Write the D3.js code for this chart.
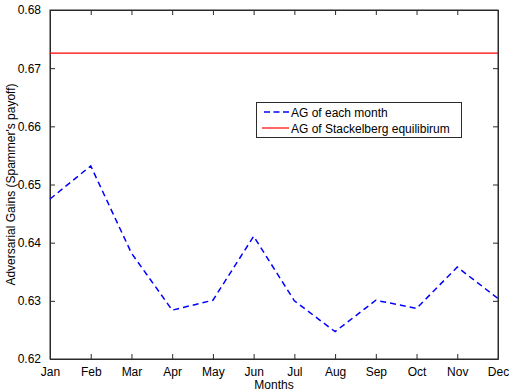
<!DOCTYPE html>
<html><head><meta charset="utf-8">
<script src="https://cdn.jsdelivr.net/npm/d3@7"></script>
<style>body{margin:0;background:#fff}svg{display:block;font-family:"Liberation Sans",Arial,sans-serif}</style>
</head><body><svg id="c" width="509" height="392"></svg>
<script>
const months = ["Jan","Feb","Mar","Apr","May","Jun","Jul","Aug","Sep","Oct","Nov","Dec"];
const monthlyAG = [0.6475,0.6532,0.6382,0.6284,0.6301,0.6411,0.6300,0.6247,0.6301,0.6287,0.6358,0.6304];
const stackelbergAG = 0.6726;
const yTicks = [0.62,0.63,0.64,0.65,0.66,0.67,0.68];
const legendLabels = ["AG of each month","AG of Stackelberg equilibirum"];

const FS = "12px";
const svg = d3.select("#c");
const L=50,R=498,T=10,B=359;
const x = d3.scalePoint().domain(months).range([L,R]);
const y = d3.scaleLinear().domain([0.62,0.68]).range([B,T]);
const axCol="#2a2a2a";

svg.append("rect").attr("x",L).attr("y",T).attr("width",R-L).attr("height",B-T)
  .attr("fill","#fff").attr("stroke",axCol).attr("stroke-width",1);

// axes
const gx = svg.append("g").attr("transform",`translate(0,${B})`)
  .call(d3.axisBottom(x).tickSizeInner(-5).tickSizeOuter(0).tickPadding(8));
const gxt = svg.append("g").attr("transform",`translate(0,${T})`)
  .call(d3.axisTop(x).tickSizeInner(-5).tickSizeOuter(0).tickFormat(""));
const gy = svg.append("g").attr("transform",`translate(${L},0)`)
  .call(d3.axisLeft(y).tickValues(yTicks).tickFormat(d3.format(".2f")).tickSizeInner(-5).tickSizeOuter(0).tickPadding(9));
const gyr = svg.append("g").attr("transform",`translate(${R},0)`)
  .call(d3.axisRight(y).tickValues(yTicks).tickFormat("").tickSizeInner(-5).tickSizeOuter(0));
[gx,gxt,gy,gyr].forEach(g=>{
  g.select(".domain").attr("stroke",axCol);
  g.selectAll(".tick line").attr("stroke",axCol);
  g.selectAll("text").attr("fill","#000").style("font-size",FS).style("font-family","Liberation Sans, Arial, sans-serif");
});

// lines
svg.append("line").attr("x1",L).attr("x2",R).attr("y1",y(stackelbergAG)).attr("y2",y(stackelbergAG))
  .attr("stroke","#ff0000").attr("stroke-width",1.2);
const line = d3.line().x((d,i)=>x(months[i])).y(d=>y(d));
svg.append("path").datum(monthlyAG).attr("d",line).attr("fill","none")
  .attr("stroke","#0000ff").attr("stroke-width",1.5).attr("stroke-dasharray","6,4");

// labels
svg.append("text").attr("x",(L+R)/2).attr("y",389).attr("text-anchor","middle")
  .style("font-size",FS).text("Months");
svg.append("text").attr("transform",`translate(15,${(T+B)/2}) rotate(-90)`).attr("text-anchor","middle")
  .style("font-size",FS).text("Adversarial Gains (Spammer's payoff)");

// legend
const lg = svg.append("g");
lg.append("rect").attr("x",256.5).attr("y",102.5).attr("width",205).attr("height",35)
  .attr("fill","#fff").attr("stroke",axCol).attr("stroke-width",1);
lg.append("line").attr("x1",264).attr("x2",289).attr("y1",112).attr("y2",112)
  .attr("stroke","#0000ff").attr("stroke-width",1.5).attr("stroke-dasharray","6,3.5");
lg.append("line").attr("x1",262).attr("x2",289).attr("y1",128).attr("y2",128)
  .attr("stroke","#ff0000").attr("stroke-width",1.2);
lg.append("text").attr("x",291).attr("y",116.5).style("font-size",FS).text(legendLabels[0]);
lg.append("text").attr("x",291).attr("y",132.5).style("font-size",FS).text(legendLabels[1]);
</script></body></html>
